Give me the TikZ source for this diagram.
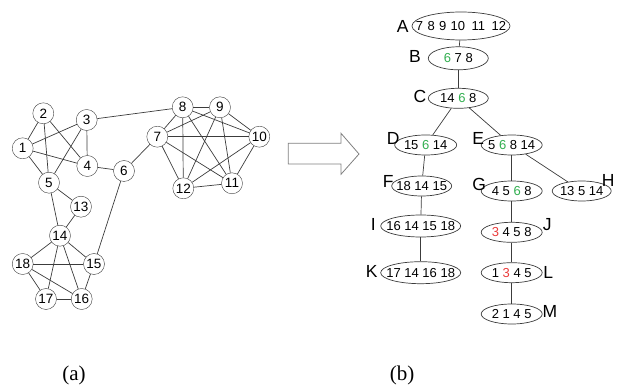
\documentclass[tikz,border=0pt]{standalone}
\usepackage{fontspec}
\setmainfont{Liberation Sans}
\newfontfamily\capfont{Liberation Serif}
\usetikzlibrary{shapes.geometric}
\definecolor{lnc}{RGB}{60,60,60}
\definecolor{grn}{RGB}{50,175,80}
\definecolor{rd}{RGB}{235,60,60}
\begin{document}
\begin{tikzpicture}[x=1pt,y=-1pt,
  vert/.style={circle,draw=lnc,fill=white,minimum size=21pt,inner sep=0pt,font=\fontsize{13.5}{13.5}\selectfont},
  edge/.style={draw=lnc,line width=0.7pt},
  bag/.style={ellipse,draw=lnc,line width=0.7pt,fill=white,inner sep=0pt,minimum height=20pt,minimum width=61pt,font=\fontsize{13}{13}\selectfont},
  tlab/.style={inner sep=0pt,font=\fontsize{17.5}{17.5}\selectfont},
  capstyle/.style={inner sep=0pt,font=\capfont\fontsize{21}{21}\selectfont}]
\useasboundingbox (0,0) rectangle (619,387);
% graph (a)
\node[vert] (n1) at (22.7,148.3) {1};
\node[vert] (n2) at (43.3,113.3) {2};
\node[vert] (n3) at (86.7,120) {3};
\node[vert] (n4) at (87.3,166) {4};
\node[vert] (n5) at (49,182.7) {5};
\node[vert] (n6) at (124,171) {6};
\node[vert] (n7) at (157.3,136.7) {7};
\node[vert] (n8) at (182.7,107.3) {8};
\node[vert] (n9) at (220,107.3) {9};
\node[vert] (n10) at (259.3,136.7) {10};
\node[vert] (n11) at (232,183.3) {11};
\node[vert] (n12) at (183.3,188.3) {12};
\node[vert] (n13) at (81,206.7) {13};
\node[vert] (n14) at (60,235.7) {14};
\node[vert] (n15) at (94,264) {15};
\node[vert] (n16) at (81.7,299) {16};
\node[vert] (n17) at (46,299) {17};
\node[vert] (n18) at (22.7,264) {18};
\foreach \a/\b in {1/2,1/3,1/4,1/5,2/5,2/4,3/4,3/5,3/8,4/6,5/13,5/14,6/7,6/15,13/14,
  14/18,14/15,14/17,14/16,18/15,18/17,18/16,15/16,17/16,
  7/8,7/9,7/10,7/11,7/12,8/9,8/10,8/11,8/12,9/10,9/11,9/12,10/11,10/12,11/12}
  \draw[edge] (n\a) -- (n\b);
% arrow
\draw[draw=gray,line width=0.8pt,fill=white] (288.3,143.3) -- (341,143.3) -- (341,133.3) -- (359,154) -- (341,174.3) -- (341,164) -- (288.3,164) -- cycle;
% tree (b)
\node[bag,minimum width=98pt,minimum height=28pt] (A) at (461,26) {\makebox[0pt]{7\,\,8\,\,9\,\,10\,\,\,11\,\,\,12}};
\node[bag,minimum width=60pt,minimum height=23pt] (B) at (458.3,58.3) {\makebox[0pt]{\textcolor{grn}{6} 7 8}};
\node[bag,minimum width=60pt] (C) at (458.3,98.3) {\makebox[0pt]{14 \textcolor{grn}{6} 8}};
\node[bag,minimum width=62pt] (D) at (425.7,145) {\makebox[0pt]{15 \textcolor{grn}{6} 14}};
\node[bag] (E) at (511.7,145) {\makebox[0pt]{5 \textcolor{grn}{6} 8 14}};
\node[bag,minimum width=60pt] (F) at (421.7,186) {\makebox[0pt]{18 14 15}};
\node[bag] (G) at (511.7,191) {\makebox[0pt]{4 5 \textcolor{grn}{6} 8}};
\node[bag,minimum width=59pt] (H) at (581.7,191) {\makebox[0pt]{13 5 14}};
\node[bag,minimum width=80pt,minimum height=22pt] (I) at (420.7,226) {\makebox[0pt]{16 14 15 18}};
\node[bag] (J) at (511.7,232.3) {\makebox[0pt]{\textcolor{rd}{3} 4 5 8}};
\node[bag,minimum width=80pt,minimum height=22pt] (K) at (420.7,272.7) {\makebox[0pt]{17 14 16 18}};
\node[bag] (L) at (511.7,272.7) {\makebox[0pt]{1 \textcolor{rd}{3} 4 5}};
\node[bag] (M) at (511.7,314) {\makebox[0pt]{2 1 4 5}};
\foreach \a/\b in {A/B,B/C,C/D,C/E,D/F,E/G,E/H,F/I,I/K,G/J,J/L,L/M}
  \draw[edge] (\a) -- (\b);
\node[tlab] (lA) at (402.7,26.7) {A};
\node[tlab] (lB) at (415,56) {B};
\node[tlab] (lC) at (420,96.7) {C};
\node[tlab] (lD) at (393.3,138.3) {D};
\node[tlab] (lE) at (478.3,138.3) {E};
\node[tlab] (lF) at (388.3,181.7) {F};
\node[tlab] (lG) at (479.3,184) {G};
\node[tlab] (lH) at (608.3,180) {H};
\node[tlab] (lI) at (373.3,224) {I};
\node[tlab] (lJ) at (547.3,225) {J};
\node[tlab] (lK) at (371.7,271.7) {K};
\node[tlab] (lL) at (548.3,272.7) {L};
\node[tlab] (lM) at (550,311.7) {M};
% captions
\node[capstyle] (ca) at (74,375) {(a)};
\node[capstyle] (cb) at (402,375) {(b)};
\end{tikzpicture}
\end{document}
